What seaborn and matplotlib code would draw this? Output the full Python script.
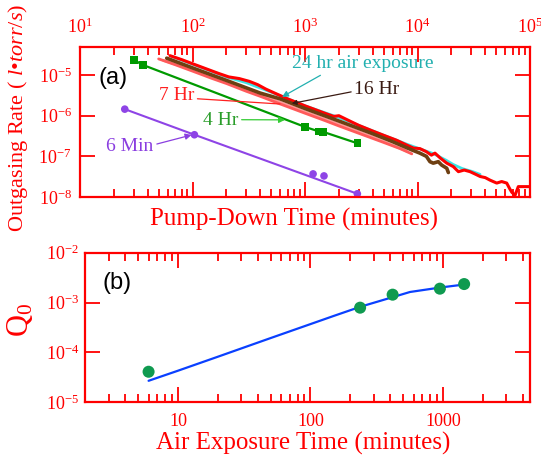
import matplotlib
matplotlib.use("Agg")
import matplotlib.pyplot as plt
import matplotlib.ticker as mticker
import seaborn as sns

# ---- panel (a): outgassing rate vs pump-down time (minutes, l*torr/s) ----
red_t = [63, 80, 100, 130, 170, 210, 260, 320, 380, 450, 550, 700, 850, 1000,
         1200, 1500, 1800, 2000, 2200, 2500, 3000, 4000, 5000, 6500, 8000, 9200,
         10500, 12000, 13300, 14300, 16000, 18200, 20800, 23100, 26000, 29300,
         33000, 36000, 40000, 44100, 50600, 56000, 62100, 66000, 69000, 73600,
         78700, 100000]
red_q = [3.0e-5, 2.4e-5, 1.9e-5, 1.45e-5, 1.1e-5, 9.0e-6, 8.2e-6, 7.0e-6, 5.8e-6,
         4.5e-6, 3.5e-6, 2.6e-6, 2.1e-6, 1.75e-6, 1.45e-6, 1.15e-6, 9.6e-7, 1.0e-6,
         8.8e-7, 7.4e-7, 5.8e-7, 4.2e-7, 3.3e-7, 2.5e-7, 1.9e-7, 1.6e-7, 1.55e-7,
         1.3e-7, 1.07e-7, 1.2e-7, 9.0e-8, 6.8e-8, 5.6e-8, 4.2e-8, 4.6e-8, 4.2e-8,
         3.6e-8, 3.2e-8, 3.0e-8, 2.6e-8, 2.2e-8, 2.4e-8, 2.2e-8, 1.6e-8, 1.3e-8,
         1.1e-8, 1.8e-8, 1.8e-8]

cyan_t = [65, 100, 200, 300, 500, 1000, 2000, 3000, 5000, 8000, 10000, 14000,
          18000, 20800, 25000, 31000, 36000]
cyan_q = [2.9e-5, 1.85e-5, 9.0e-6, 6.5e-6, 3.8e-6, 1.75e-6, 9.0e-7, 5.8e-7,
          3.3e-7, 2.0e-7, 1.6e-7, 1.15e-7, 8.0e-8, 6.3e-8, 5.0e-8, 4.2e-8, 3.6e-8]

brown_t = [59, 100, 200, 400, 600, 1000, 2000, 4000, 6000, 8900, 10500, 12000,
           12900, 13800, 15300, 16400, 18200, 18800]
brown_q = [2.6e-5, 1.5e-5, 7.4e-6, 3.6e-6, 2.6e-6, 1.5e-6, 7.4e-7, 3.6e-7,
           2.3e-7, 1.44e-7, 1.2e-7, 1.0e-7, 7.4e-8, 6.8e-8, 7.4e-8, 6.1e-8,
           5.1e-8, 4.0e-8]

salmon_t = [50, 70, 100, 150, 200, 300, 400, 600, 1000, 1500, 2000, 3000, 5000,
            7000, 8900]
salmon_q = [2.5e-5, 1.8e-5, 1.25e-5, 8.2e-6, 6.2e-6, 4.0e-6, 3.0e-6, 1.95e-6,
            1.15e-6, 7.6e-7, 5.6e-7, 3.7e-7, 2.2e-7, 1.55e-7, 1.15e-7]
salmon2_t = [55, 100, 200, 400, 1000, 2000, 4000, 8000]
salmon2_q = [2.3e-5, 1.35e-5, 6.8e-6, 3.3e-6, 1.25e-6, 6.2e-7, 3.0e-7, 1.35e-7]

green_t = [30.2, 36.5, 1000, 1330, 1450, 2920]
green_q = [2.34e-5, 1.76e-5, 5.3e-7, 4.1e-7, 4.0e-7, 2.1e-7]

purple_line_t = [25, 104, 2920]
purple_line_q = [1.45e-6, 3.4e-7, 1.2e-8]
purple_pts_t = [25, 104, 1180, 1475, 2920]
purple_pts_q = [1.45e-6, 3.4e-7, 3.7e-8, 3.3e-8, 1.2e-8]

# ---- panel (b): Q0 vs air exposure time ----
expo_t = [6.0, 237, 417, 948, 1445]
expo_q0 = [4.1e-5, 7.9e-4, 1.44e-3, 1.9e-3, 2.35e-3]
fit_t = [6, 10, 20, 50, 100, 150, 240, 420, 564, 950, 1445]
fit_q0 = [2.7e-5, 4.3e-5, 8.2e-5, 1.94e-4, 3.7e-4, 5.4e-4, 8.3e-4, 1.29e-3,
          1.63e-3, 2.0e-3, 2.3e-3]

RED = "#ff0000"
SERIF = "Liberation Serif"

sns.set_style("ticks")
plt.rcParams["font.family"] = [SERIF, "DejaVu Sans"]
plt.rcParams["mathtext.fontset"] = "custom"
plt.rcParams["mathtext.rm"] = SERIF
plt.rcParams["mathtext.it"] = SERIF + ":italic"


def style_axis(ax):
    for sp in ax.spines.values():
        sp.set_color(RED)
        sp.set_linewidth(1.6)
    ax.tick_params(which="both", direction="in", colors=RED, top=True,
                   right=True, labelsize=13)
    ax.tick_params(which="major", length=11, width=1.3)
    ax.tick_params(which="minor", length=6, width=1.3)
    ax.xaxis.set_minor_locator(mticker.LogLocator(base=10, subs=range(2, 10), numticks=20))
    ax.yaxis.set_major_locator(mticker.LogLocator(base=10, numticks=10))
    ax.yaxis.set_minor_locator(mticker.NullLocator())


fig = plt.figure(figsize=(5.41, 4.58), dpi=100)
ax1 = fig.add_axes([80 / 541, 1 - 197 / 458, 450 / 541, 150 / 458])
ax2 = fig.add_axes([84.5 / 541, 1 - 402.3 / 458, 445.5 / 541, 149.6 / 458])

# panel (a)
ax1.set_xscale("log")
ax1.set_yscale("log")
line_kw = dict(ax=ax1, sort=False, estimator=None, legend=False)
sns.lineplot(x=cyan_t, y=cyan_q, color="#3ce4e4", lw=2.0, **line_kw)
sns.lineplot(x=salmon2_t, y=salmon2_q, color="#ff9a9a", lw=2.0, **line_kw)
sns.lineplot(x=salmon_t, y=salmon_q, color="#ff5a5a", lw=2.0, **line_kw)
sns.lineplot(x=red_t, y=red_q, color=RED, lw=2.2, **line_kw)
sns.lineplot(x=brown_t, y=brown_q, color="#6e3f12", lw=2.6, **line_kw)
sns.lineplot(x=green_t, y=green_q, color="#009a00", lw=1.6, **line_kw)
sns.scatterplot(x=green_t, y=green_q, ax=ax1, marker="s", s=30,
                color="#009a00", edgecolor="none", legend=False)
sns.lineplot(x=purple_line_t, y=purple_line_q, color="#8e44e6", lw=1.5, **line_kw)
sns.scatterplot(x=purple_pts_t, y=purple_pts_q, ax=ax1, marker="o", s=30,
                color="#8e44e6", edgecolor="none", legend=False)

ax1.set_xlim(10, 1e5)
ax1.set_ylim(1e-8, 4.9e-5)
style_axis(ax1)
ax1.xaxis.set_major_locator(mticker.LogLocator(base=10, numticks=10))
ax1.tick_params(axis="x", which="both", labeltop=True, labelbottom=False, pad=7)
ax1.tick_params(axis="y", pad=6)
ax1.set_xlabel("Pump-Down Time (minutes)", fontsize=18, color=RED)
ax1.xaxis.set_label_position("bottom")
ax1.xaxis.set_label_coords(0.476, -0.07)
ax1.set_ylabel("Outgasing Rate ( $\\mathit{l}$•$\\mathit{torr/s}$)", fontsize=16, color=RED)
ax1.yaxis.set_label_coords(-0.11, 0.53)

ax1.text(0.073, 0.793, "(a)", transform=ax1.transAxes, fontsize=17,
         family="Liberation Sans", ha="center", va="center", color="black")

ann = dict(fontsize=14, ha="center", va="center")
ax1.annotate("24 hr air exposure", xy=(625, 2.9e-6), xytext=(3280, 1.92e-5),
             color="#22b0b0",
             arrowprops=dict(arrowstyle="-|>", color="#22b0b0", lw=0.9,
                             mutation_scale=9, shrinkA=0, shrinkB=0,
                             relpos=(0.24, 0.0)), **ann)
ax1.annotate("16 Hr", xy=(762, 2.0e-6), xytext=(4370, 4.4e-6), color="#3a1a12",
             arrowprops=dict(arrowstyle="-|>", color="#3a1a12", lw=0.9,
                             mutation_scale=7, shrinkA=0, shrinkB=0,
                             relpos=(0.0, 0.4)), **ann)
ax1.annotate("7 Hr", xy=(600, 1.94e-6), xytext=(72, 3.2e-6), color="#ff2020",
             arrowprops=dict(arrowstyle="-", color="#ff2020", lw=0.9,
                             shrinkA=0, shrinkB=0, relpos=(1.0, 0.3)), **ann)
ax1.annotate("4 Hr", xy=(664, 7.9e-7), xytext=(178, 7.6e-7), color="#2a9d2a",
             arrowprops=dict(arrowstyle="-|>", color="#33cc33", lw=0.9,
                             mutation_scale=9, shrinkA=0, shrinkB=0,
                             relpos=(1.0, 0.55)), **ann)
ax1.annotate("6 Min", xy=(98, 3.36e-7), xytext=(27.8, 1.74e-7), color="#8a3ee0",
             arrowprops=dict(arrowstyle="-|>", color="#8a3ee0", lw=0.9,
                             mutation_scale=9, shrinkA=0, shrinkB=0,
                             relpos=(1.0, 0.6)), **ann)

# panel (b)
ax2.set_xscale("log")
ax2.set_yscale("log")
sns.lineplot(x=fit_t, y=fit_q0, ax=ax2, color="#0a40ff", lw=1.6, sort=False,
             estimator=None, legend=False)
sns.scatterplot(x=expo_t, y=expo_q0, ax=ax2, marker="o", s=75,
                color="#0f9a50", edgecolor="none", legend=False, zorder=3)
ax2.set_xlim(1.97, 4540)
ax2.set_ylim(1e-5, 1e-2)
style_axis(ax2)
ax2.xaxis.set_major_locator(mticker.FixedLocator([10, 100, 1000]))
ax2.xaxis.set_major_formatter(mticker.FuncFormatter(lambda v, p: f"{v:.0f}"))
ax2.tick_params(axis="x", pad=8)
ax2.tick_params(axis="y", pad=4)
ax2.set_xlabel("Air Exposure Time (minutes)", fontsize=18, color=RED)
ax2.xaxis.set_label_coords(0.49, -0.2)
ax2.set_ylabel("Q$_0$", fontsize=22, color=RED)
ax2.yaxis.set_label_coords(-0.11, 0.55)
ax2.text(0.073, 0.80, "(b)", transform=ax2.transAxes, fontsize=17,
         family="Liberation Sans", ha="center", va="center", color="black")

fig.savefig("out.png", dpi=100)
